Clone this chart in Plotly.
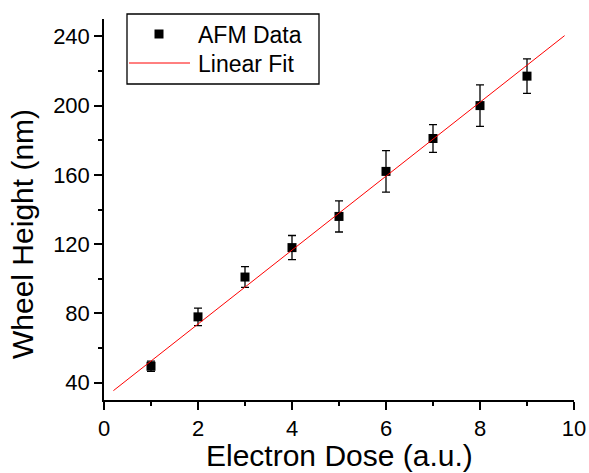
import plotly.graph_objects as go

# Data
dose = [1, 2, 3, 4, 5, 6, 7, 8, 9]
height = [49.5, 78, 101, 118, 136, 162, 181, 200, 217]
height_err = [3, 5, 6, 7, 9, 12, 8, 12, 10]

fit_x = [0.2, 9.8]
fit_y = [35.4, 240.4]

series_names = ["AFM Data", "Linear Fit"]
x_title = "Electron Dose (a.u.)"
y_title = "Wheel Height (nm)"

FONT = "Liberation Sans, Arial, sans-serif"
W, H = 589, 473
ML, MR, MT, MB = 104, 15, 19, 73
PW, PH = W - ML - MR, H - MT - MB


def px(X):
    return (X - ML) / PW


def py(Y):
    return (H - MB - Y) / PH


fig = go.Figure()
fig.add_trace(go.Scatter(
    x=dose, y=height, mode="markers", name=series_names[0],
    marker=dict(symbol="square", size=9, color="black"),
    error_y=dict(type="data", array=height_err, visible=True,
                 color="black", thickness=1.3, width=4),
    showlegend=False,
))
fig.add_trace(go.Scatter(
    x=fit_x, y=fit_y, mode="lines", name=series_names[1],
    line=dict(color="#ff0000", width=1),
    showlegend=False,
))

axis_common = dict(
    showline=True, linecolor="black", linewidth=1.5,
    ticks="outside", ticklen=8, tickwidth=1.5, tickcolor="black",
    showgrid=False, zeroline=False, mirror=False, automargin=False,
    tickfont=dict(family=FONT, size=22, color="black"),
)

# Legend box drawn by hand (Origin-style layout)
shapes = [
    dict(type="rect", xref="paper", yref="paper",
         x0=px(127), x1=px(319), y0=py(84), y1=py(14),
         line=dict(color="black", width=1.3), fillcolor="white", layer="above"),
    dict(type="rect", xref="paper", yref="paper",
         x0=px(154.5), x1=px(163.5), y0=py(38.5), y1=py(29.5),
         line=dict(width=0), fillcolor="black", layer="above"),
    dict(type="line", xref="paper", yref="paper",
         x0=px(129), x1=px(190), y0=py(63), y1=py(63),
         line=dict(color="#ff0000", width=1), layer="above"),
]

annotations = [
    dict(text=series_names[0], xref="paper", yref="paper", x=px(196), y=py(35),
         xanchor="left", yanchor="middle", showarrow=False,
         font=dict(family=FONT, size=23, color="black")),
    dict(text=series_names[1], xref="paper", yref="paper", x=px(196), y=py(64),
         xanchor="left", yanchor="middle", showarrow=False,
         font=dict(family=FONT, size=23, color="black")),
    dict(text=x_title, xref="paper", yref="paper", x=px(339), y=py(472.5),
         xanchor="center", yanchor="bottom", showarrow=False, borderpad=0,
         font=dict(family=FONT, size=30, color="black")),
    dict(text=y_title, xref="paper", yref="paper", x=px(22), y=py(234),
         xanchor="center", yanchor="middle", showarrow=False, textangle=-90,
         font=dict(family=FONT, size=30, color="black")),
]

fig.update_layout(
    width=W, height=H,
    margin=dict(l=ML, r=MR, t=MT, b=MB, autoexpand=False),
    paper_bgcolor="white", plot_bgcolor="white",
    font=dict(family=FONT, color="black"),
    showlegend=False,
    shapes=shapes,
    annotations=annotations,
    xaxis=dict(
        range=[0, 10], dtick=2, tick0=0,
        minor=dict(dtick=1, ticks="outside", ticklen=4, tickwidth=1.5, tickcolor="black"),
        **axis_common,
    ),
    yaxis=dict(
        range=[30, 250], dtick=40, tick0=0,
        minor=dict(dtick=20, ticks="outside", ticklen=4, tickwidth=1.5, tickcolor="black"),
        **axis_common,
    ),
)

fig.write_html(
    "out.html",
    config={"displayModeBar": False},
    post_script="document.body.style.margin='0';document.body.style.overflow='hidden';",
)
